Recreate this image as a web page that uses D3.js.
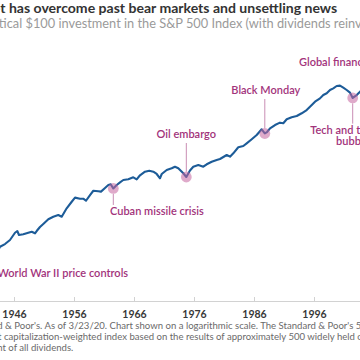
<!DOCTYPE html>
<html><head><meta charset="utf-8">
<script src="https://cdn.jsdelivr.net/npm/d3@7"></script>
<style>html,body{margin:0;padding:0;background:#fff;overflow:hidden}svg{display:block}</style>
</head><body><svg id="c" width="360" height="360"></svg>
<script>
// ---- data ----
const years = [1941.67,1942.33,1943.0,1943.67,1944.5,1945.33,1946.17,1946.55,1946.83,1947.55,
1948.38,1948.95,1949.5,1949.78,1950.33,1950.88,1951.72,1952.55,1953.38,1953.95,
1954.78,1955.62,1956.17,1957.0,1957.55,1958.0,1958.67,1959.22,1960.05,1960.5,
1961.17,1961.72,1962.12,1962.55,1963.12,1963.67,1964.22,1965.05,1965.88,1966.45,
1967.0,1967.83,1968.55,1969.22,1969.78,1970.33,1970.62,1971.45,1972.28,1972.83,
1973.38,1974.22,1974.72,1975.33,1975.88,1976.72,1977.55,1978.12,1978.95,1979.78,
1980.33,1981.45,1982.0,1982.55,1983.38,1984.22,1984.78,1985.62,1986.45,1987.28,
1987.8,1988.17,1988.67,1989.5,1990.33,1990.88,1991.45,1992.28,1993.12,1993.95,
1994.78,1995.33,1996.17,1997.0,1997.55,1998.12,1998.67,1999.22,1999.78,2000.33,
2000.88,2001.45,2002.0,2002.45,2003.12,2003.67,2004.33];
const values = [76.3,83.4,109,150,169,202,279,301,252,260,
279,292,272,301,360,411,506,567,612,567,
823,1100,1320,1260,1260,1150,1480,1790,1750,1720,
2020,2310,2380,1980,2310,2600,2880,2970,3250,2970,
3550,4160,4350,4160,3760,3110,3760,4490,4840,5190,
4840,3880,3290,4390,5190,5600,5190,5780,6480,6990,
7300,8720,8090,9400,12300,13000,14600,17500,21100,27200,
22600,24100,28400,32900,36500,35500,42400,46300,49000,55300,
63900,74000,92300,107000,124000,134000,155000,167000,185000,188000,
172000,155000,138000,109000,124000,144000,169000];
const tickYears = [1946,1956,1966,1976,1986,1996];
const eventDates = [1942.33,1962.55,1974.72,1987.8,2002.45,2009.2];
const eventLabels = [["World War II price controls"],["Cuban missile crisis"],["Oil embargo"],["Black Monday"],["Tech and telecom","bubble"],["Global financial crisis"]];
const titleText = "Over time, the market has overcome past bear markets and unsettling news";
const subtitleText = "Growth of a hypothetical $100 investment in the S&P 500 Index (with dividends reinvested)";
const noteLines = [
 "Source: Standard & Poor's. As of 3/23/20. Chart shown on a logarithmic scale. The Standard & Poor's 500 Composite",
 "Index is a market capitalization-weighted index based on the results of approximately 500 widely held common stocks. Results reflect",
 "reinvestment of all dividends."];

// ---- layout (positions / styles) ----
const eventLayout = [
 {anchor:"start", dx:5.5, dy:17.3},
 {anchor:"start", dx:-3.3, dy:26.5},
 {anchor:"middle", dx:0, dy:-39},
 {anchor:"middle", dx:1, dy:-39.5},
 {anchor:"middle", dx:0, dy:35.7, lh:11.6},
 {anchor:"start", dx:-94.2, dy:-19.7, noMarker:true}
];
const FONT = "Lato, 'Open Sans', sans-serif";
const svg = d3.select("#c");
const x = d3.scaleLinear().domain([1940, 2010]).range([-22, 398]);
const y = d3.scaleLog().domain([10, 1e6]).range([307.9, 47.9]);
const series = years.map((yr,i)=>({year:yr, value:values[i]}));

function placeText(parent, o){
  const t = parent.append("text").attr("y", o.y).attr("font-family", FONT)
    .attr("font-size", o.size).attr("font-weight", o.weight||400).attr("fill", o.fill)
    .style("white-space","pre").text(o.text);
  const i = o.text.indexOf(o.sub);
  let fs = o.size;
  if (o.width){ const w = t.node().getSubStringLength(i, o.sub.length); fs = o.size*o.width/w; t.attr("font-size", fs); }
  const pre = i>0 ? t.node().getSubStringLength(0, i) : 0;
  t.attr("x", o.x - pre);
  return fs;
}

// title + subtitle
placeText(svg, {text:titleText, sub:"t has overcome past bear markets and unsettling news", x:0.3, width:337, y:12.6, size:14, weight:700, fill:"#333333"});
placeText(svg, {text:subtitleText, sub:"$100 investment in the S&P 500 Index (with dividends", x:25.5, width:305.5, y:27.5, size:11, weight:400, fill:"#9a9a9a"});

// axis
const ax = svg.append("g").attr("transform","translate(0,301)")
  .call(d3.axisBottom(x).tickValues(tickYears).tickFormat(d3.format("d")).tickSize(-4).tickSizeOuter(0).tickPadding(10));
ax.select(".domain").attr("stroke","#d2d2d2");
ax.selectAll(".tick line").attr("stroke","#d2d2d2");
ax.selectAll(".tick text").attr("font-family",FONT).attr("font-size",10.5).attr("font-weight",700).attr("fill","#383838");

// line
svg.append("path").datum(series).attr("fill","none").attr("stroke","#1d5c98").attr("stroke-width",2.1)
  .attr("stroke-linejoin","round").attr("d", d3.line().x(d=>x(d.year)).y(d=>y(d.value)));

// events
const maxVal = d3.max(values);
const R = 5.4;
eventDates.forEach((dt,i)=>{
  const L = eventLayout[i];
  const pt = series.find(p=>Math.abs(p.year-dt)<0.01);
  const mx = x(dt);
  const my = pt ? y(pt.value) : y(maxVal);
  const by = my + L.dy;
  const lh = L.lh || 11.6;
  if (!L.noMarker){
    const above = L.dy < 0;
    const y1 = above ? by + 5 : my + R;
    const y2 = above ? my - R : by - 10;
    svg.append("line").attr("x1",mx).attr("x2",mx).attr("y1",y1).attr("y2",y2)
      .attr("stroke","#c98db4").attr("stroke-width",1);
    svg.append("circle").attr("cx",mx).attr("cy",my).attr("r",R).attr("fill","#c4649f").attr("opacity",0.55);
  }
  const t = svg.append("text").attr("font-family",FONT).attr("font-size",11).attr("font-weight",600)
    .attr("fill","#a2337b").attr("text-anchor",L.anchor);
  eventLabels[i].forEach((s,j)=>{
    t.append("tspan").attr("x", mx + L.dx).attr("y", by + j*lh).text(s);
  });
});

// footnote
let fs = placeText(svg, {text:noteLines[0], sub:"& Poor's. As of 3/23/20. Chart shown on a logarithmic scale. The Standard & Poor's", x:5, width:349, y:328.7, size:9.5, fill:"#6a6a6a"});
placeText(svg, {text:noteLines[1], sub:"capitalization-weighted", x:4, y:339.7, size:fs, fill:"#6a6a6a"});
placeText(svg, {text:noteLines[2], sub:"of all dividends.", x:8.3, y:350.7, size:fs, fill:"#6a6a6a"});
</script></body></html>
